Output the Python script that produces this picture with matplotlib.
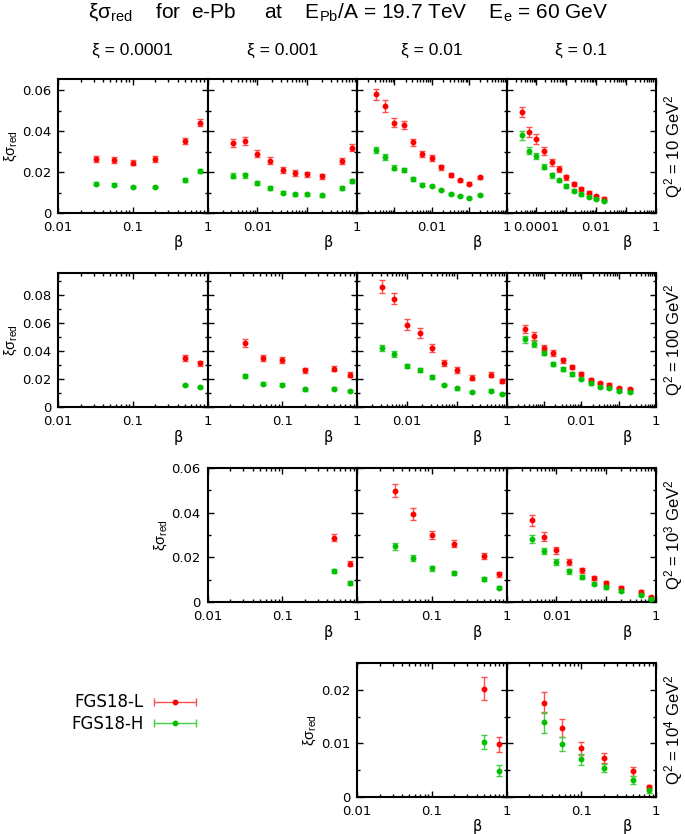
import matplotlib
matplotlib.use('Agg')
import matplotlib.pyplot as plt
from matplotlib.ticker import FixedLocator, LogLocator, MultipleLocator, FuncFormatter, NullFormatter
from matplotlib.container import ErrorbarContainer
from matplotlib.legend_handler import HandlerErrorbar

plt.rcParams['font.family'] = ['DejaVu Sans']
plt.rcParams['mathtext.fontset'] = 'custom'
plt.rcParams['mathtext.rm'] = 'Liberation Sans'
plt.rcParams['mathtext.it'] = 'Liberation Sans:italic'
plt.rcParams['mathtext.bf'] = 'Liberation Sans:bold'
plt.rcParams['mathtext.sf'] = 'Liberation Sans'

# ---------------- data ----------------
xi_labels = ['ξ = 0.0001', 'ξ = 0.001', 'ξ = 0.01', 'ξ = 0.1']
q2_labels = ['Q$^2$ = 10 GeV$^2$', 'Q$^2$ = 100 GeV$^2$',
             'Q$^2$ = 10$^3$ GeV$^2$', 'Q$^2$ = 10$^4$ GeV$^2$']
series_labels = ['FGS18-L', 'FGS18-H']

# Q2 = 10 GeV^2
beta_q1_xi4 = [0.032, 0.056, 0.1, 0.2, 0.5, 0.8]
L_q1_xi4 = [0.0263, 0.0259, 0.0245, 0.0263, 0.0353, 0.0441]
Le_q1_xi4 = [0.0013, 0.0013, 0.0012, 0.0013, 0.0015, 0.0018]
H_q1_xi4 = [0.0143, 0.0137, 0.0127, 0.0127, 0.0161, 0.0203]
He_q1_xi4 = [0.0007, 0.0007, 0.0006, 0.0006, 0.0008, 0.0010]

beta_q1_xi3 = [0.0032, 0.0056, 0.01, 0.018, 0.032, 0.056, 0.1, 0.2, 0.5, 0.8]
L_q1_xi3 = [0.0340, 0.0353, 0.0289, 0.0255, 0.0211, 0.0195, 0.0189, 0.0179, 0.0252, 0.0319]
Le_q1_xi3 = [0.0020, 0.0020, 0.0018, 0.0016, 0.0015, 0.0013, 0.0012, 0.0011, 0.0015, 0.0018]
H_q1_xi3 = [0.0182, 0.0184, 0.0148, 0.0122, 0.0099, 0.0091, 0.0091, 0.0086, 0.0123, 0.0158]
He_q1_xi3 = [0.0011, 0.0011, 0.0010, 0.0008, 0.0007, 0.0007, 0.0007, 0.0007, 0.0009, 0.0010]

beta_q1_xi2 = [0.00032, 0.00056, 0.001, 0.0018, 0.0032, 0.0056, 0.01, 0.018, 0.032, 0.056, 0.1, 0.2]
L_q1_xi2 = [0.0579, 0.0523, 0.0441, 0.0429, 0.0345, 0.0286, 0.0267, 0.0223, 0.0184, 0.0159, 0.0143, 0.0174]
Le_q1_xi2 = [0.0027, 0.0028, 0.0022, 0.0021, 0.0018, 0.0015, 0.0014, 0.0012, 0.0010, 0.0009, 0.0008, 0.0009]
H_q1_xi2 = [0.0307, 0.0272, 0.0221, 0.0211, 0.0166, 0.0138, 0.0132, 0.0112, 0.0093, 0.0081, 0.0073, 0.0089]
He_q1_xi2 = [0.0015, 0.0014, 0.0012, 0.0011, 0.0009, 0.0008, 0.0007, 0.0006, 0.0006, 0.0005, 0.0005, 0.0005]

beta_q1_xi1 = [3.2e-5, 5.6e-5, 1e-4, 1.8e-4, 3.2e-4, 5.6e-4, 1e-3, 1.8e-3, 3.2e-3, 5.6e-3, 0.01, 0.018]
L_q1_xi1 = [0.0494, 0.0397, 0.0362, 0.0302, 0.0247, 0.0213, 0.0174, 0.0141, 0.0117, 0.0099, 0.0081, 0.0070]
Le_q1_xi1 = [0.0025, 0.0024, 0.0024, 0.0019, 0.0016, 0.0015, 0.0012, 0.0010, 0.0009, 0.0008, 0.0007, 0.0006]
H_q1_xi1 = [0.0379, 0.0304, 0.0278, 0.0226, 0.0184, 0.0159, 0.0132, 0.0109, 0.0091, 0.0078, 0.0067, 0.0057]
He_q1_xi1 = [0.0022, 0.0016, 0.0015, 0.0013, 0.0011, 0.0009, 0.0008, 0.0007, 0.0006, 0.0005, 0.0005, 0.0005]

# Q2 = 100 GeV^2
beta_q2_xi4 = [0.5, 0.8]
L_q2_xi4 = [0.0350, 0.0312]
Le_q2_xi4 = [0.0018, 0.0016]
H_q2_xi4 = [0.0157, 0.0143]
He_q2_xi4 = [0.0008, 0.0007]

beta_q2_xi3 = [0.032, 0.056, 0.1, 0.2, 0.5, 0.8]
L_q2_xi3 = [0.0457, 0.0350, 0.0336, 0.0262, 0.0274, 0.0231]
Le_q2_xi3 = [0.0032, 0.0021, 0.0021, 0.0018, 0.0019, 0.0017]
H_q2_xi3 = [0.0219, 0.0167, 0.0159, 0.0126, 0.0131, 0.0112]
He_q2_xi3 = [0.0014, 0.0012, 0.0011, 0.0009, 0.0009, 0.0008]

beta_q2_xi2 = [0.0032, 0.0056, 0.01, 0.018, 0.032, 0.056, 0.1, 0.2, 0.5, 0.8]
L_q2_xi2 = [0.0859, 0.0774, 0.0588, 0.0529, 0.0424, 0.0314, 0.0264, 0.0209, 0.0231, 0.0188]
Le_q2_xi2 = [0.0047, 0.0041, 0.0038, 0.0035, 0.0028, 0.0022, 0.0020, 0.0016, 0.0017, 0.0014]
H_q2_xi2 = [0.0421, 0.0379, 0.0291, 0.0264, 0.0212, 0.0157, 0.0133, 0.0105, 0.0117, 0.0095]
He_q2_xi2 = [0.0021, 0.0020, 0.0016, 0.0015, 0.0013, 0.0010, 0.0009, 0.0008, 0.0008, 0.0007]

beta_q2_xi1 = [3.2e-4, 5.6e-4, 1e-3, 1.8e-3, 3.2e-3, 5.6e-3, 0.01, 0.018, 0.032, 0.056, 0.1, 0.2]
L_q2_xi1 = [0.0557, 0.0507, 0.0421, 0.0386, 0.0333, 0.0286, 0.0236, 0.0195, 0.0171, 0.0159, 0.0136, 0.0126]
Le_q2_xi1 = [0.0030, 0.0028, 0.0024, 0.0022, 0.0019, 0.0016, 0.0014, 0.0012, 0.0010, 0.0010, 0.0009, 0.0008]
H_q2_xi1 = [0.0484, 0.0452, 0.0388, 0.0307, 0.0271, 0.0236, 0.0200, 0.0169, 0.0145, 0.0133, 0.0114, 0.0109]
He_q2_xi1 = [0.0024, 0.0022, 0.0019, 0.0016, 0.0014, 0.0012, 0.0010, 0.0009, 0.0008, 0.0007, 0.0006, 0.0006]

# Q2 = 1000 GeV^2
beta_q3_xi3 = [0.5, 0.8]
L_q3_xi3 = [0.0288, 0.0172]
Le_q3_xi3 = [0.0017, 0.0013]
H_q3_xi3 = [0.0140, 0.0085]
He_q3_xi3 = [0.0009, 0.0007]

beta_q3_xi2 = [0.032, 0.056, 0.1, 0.2, 0.5, 0.8]
L_q3_xi2 = [0.0498, 0.0394, 0.0300, 0.0261, 0.0207, 0.0125]
Le_q3_xi2 = [0.0030, 0.0025, 0.0017, 0.0016, 0.0013, 0.0011]
H_q3_xi2 = [0.0249, 0.0198, 0.0151, 0.0131, 0.0103, 0.0064]
He_q3_xi2 = [0.0016, 0.0013, 0.0010, 0.0009, 0.0008, 0.0006]

beta_q3_xi1 = [0.0032, 0.0056, 0.01, 0.018, 0.032, 0.056, 0.1, 0.2, 0.5, 0.8]
L_q3_xi1 = [0.0366, 0.0292, 0.0231, 0.0179, 0.0143, 0.0106, 0.0086, 0.0064, 0.0046, 0.0021]
Le_q3_xi1 = [0.0025, 0.0020, 0.0016, 0.0013, 0.0011, 0.0009, 0.0008, 0.0007, 0.0006, 0.0005]
H_q3_xi1 = [0.0283, 0.0227, 0.0179, 0.0137, 0.0111, 0.0082, 0.0066, 0.0051, 0.0033, 0.0013]
He_q3_xi1 = [0.0017, 0.0014, 0.0012, 0.0010, 0.0008, 0.0007, 0.0006, 0.0005, 0.0005, 0.0004]

# Q2 = 10000 GeV^2
beta_q4_xi2 = [0.5, 0.8]
L_q4_xi2 = [0.0202, 0.0098]
Le_q4_xi2 = [0.0021, 0.0014]
H_q4_xi2 = [0.0102, 0.0049]
He_q4_xi2 = [0.0013, 0.0010]

beta_q4_xi1 = [0.032, 0.056, 0.1, 0.2, 0.5, 0.8]
L_q4_xi1 = [0.0176, 0.0129, 0.0091, 0.0073, 0.0048, 0.0019]
Le_q4_xi1 = [0.0020, 0.0017, 0.0012, 0.0009, 0.0008, 0.0004]
H_q4_xi1 = [0.0139, 0.0099, 0.0070, 0.0054, 0.0032, 0.0013]
He_q4_xi1 = [0.0020, 0.0013, 0.0011, 0.0008, 0.0007, 0.0005]

# ---------------- layout ----------------
W, H = 685, 834
RED, RED_E = '#ff0000', '#ff5050'
GRN, GRN_E = '#00c000', '#40d040'

col_edges = [58, 207.5, 357, 506.5, 656]
row_spans = [(79, 213), (273, 407), (468, 602), (663, 797)]
row_ylim = [0.0654, 0.0957, 0.06, 0.025]
row_ymaj = [0.02, 0.02, 0.02, 0.01]
row_ymin = [0.01, 0.01, 0.01, 0.005]

# (row, col, beta, L, Le, H, He, xmin, labelled decades)
panels = [
    (0, 0, beta_q1_xi4, L_q1_xi4, Le_q1_xi4, H_q1_xi4, He_q1_xi4, 1e-2, [1e-2, 1e-1, 1]),
    (0, 1, beta_q1_xi3, L_q1_xi3, Le_q1_xi3, H_q1_xi3, He_q1_xi3, 1e-3, [1e-2, 1]),
    (0, 2, beta_q1_xi2, L_q1_xi2, Le_q1_xi2, H_q1_xi2, He_q1_xi2, 1e-4, [1e-2, 1]),
    (0, 3, beta_q1_xi1, L_q1_xi1, Le_q1_xi1, H_q1_xi1, He_q1_xi1, 1e-5, [1e-4, 1e-2, 1]),
    (1, 0, beta_q2_xi4, L_q2_xi4, Le_q2_xi4, H_q2_xi4, He_q2_xi4, 1e-2, [1e-2, 1e-1, 1]),
    (1, 1, beta_q2_xi3, L_q2_xi3, Le_q2_xi3, H_q2_xi3, He_q2_xi3, 1e-2, [1e-1, 1]),
    (1, 2, beta_q2_xi2, L_q2_xi2, Le_q2_xi2, H_q2_xi2, He_q2_xi2, 1e-3, [1e-2, 1]),
    (1, 3, beta_q2_xi1, L_q2_xi1, Le_q2_xi1, H_q2_xi1, He_q2_xi1, 1e-4, [1e-2, 1]),
    (2, 1, beta_q3_xi3, L_q3_xi3, Le_q3_xi3, H_q3_xi3, He_q3_xi3, 1e-2, [1e-2, 1e-1, 1]),
    (2, 2, beta_q3_xi2, L_q3_xi2, Le_q3_xi2, H_q3_xi2, He_q3_xi2, 1e-2, [1e-1, 1]),
    (2, 3, beta_q3_xi1, L_q3_xi1, Le_q3_xi1, H_q3_xi1, He_q3_xi1, 1e-3, [1e-2, 1]),
    (3, 2, beta_q4_xi2, L_q4_xi2, Le_q4_xi2, H_q4_xi2, He_q4_xi2, 1e-2, [1e-2, 1e-1, 1]),
    (3, 3, beta_q4_xi1, L_q4_xi1, Le_q4_xi1, H_q4_xi1, He_q4_xi1, 1e-2, [1e-1, 1]),
]
first_col = {0: 0, 1: 0, 2: 1, 3: 2}

fig = plt.figure(figsize=(W / 100, H / 100), dpi=100)


def fmt_dec(v):
    return {1e-5: '0.00001', 1e-4: '0.0001', 1e-3: '0.001', 1e-2: '0.01', 1e-1: '0.1', 1: '1'}[v]


def yfmt(v, pos):
    if abs(v) < 1e-12:
        return '0'
    return f'{v:g}'


for (r, c, beta, L, Le, Hv, He, xmin, labd) in panels:
    x0, x1 = col_edges[c], col_edges[c + 1]
    top, bot = row_spans[r]
    ax = fig.add_axes([x0 / W, 1 - bot / H, (x1 - x0) / W, (bot - top) / H])
    ax.errorbar(beta, L, yerr=Le, fmt='o', color=RED, ecolor=RED_E, ms=3.2,
                elinewidth=1.0, capsize=2.3, capthick=1.0, zorder=3)
    ax.errorbar(beta, Hv, yerr=He, fmt='o', color=GRN, ecolor=GRN_E, ms=3.2,
                elinewidth=1.0, capsize=2.3, capthick=1.0, zorder=3)
    ax.set_xscale('log')
    ax.set_xlim(xmin, 1)
    ax.set_ylim(0, row_ylim[r])
    decs = []
    d = xmin
    while d <= 1.0001:
        decs.append(d)
        d *= 10
    decs = [float(f'{v:.0e}') for v in decs]
    ax.xaxis.set_major_locator(FixedLocator(decs))
    ax.xaxis.set_minor_locator(LogLocator(base=10, subs=range(2, 10), numticks=20))
    ax.xaxis.set_minor_formatter(NullFormatter())
    labs = [fmt_dec(v) if any(abs(v - l) < 1e-9 * max(l, 1e-9) for l in labd) else '' for v in decs]
    ax.set_xticklabels(labs)
    ax.yaxis.set_major_locator(MultipleLocator(row_ymaj[r]))
    ax.yaxis.set_minor_locator(MultipleLocator(row_ymin[r]))
    if c == first_col[r]:
        ax.yaxis.set_major_formatter(FuncFormatter(yfmt))
        ax.text(-47 / (x1 - x0), 0.5, 'ξσ$_{\\rm red}$', transform=ax.transAxes,
                rotation=90, ha='center', va='center', fontsize=10.5,
                family='Liberation Sans')
    else:
        ax.yaxis.set_major_formatter(NullFormatter())
    ax.tick_params(which='both', direction='in', top=True, right=True, labelsize=9.5,
                   width=1.0)
    ax.tick_params(which='major', length=4.5)
    ax.tick_params(which='minor', length=2.5)
    ax.tick_params(axis='x', pad=6)
    ax.tick_params(axis='y', pad=5)
    for s in ax.spines.values():
        s.set_linewidth(1.5)
    ax.text(0.805, -30 / (bot - top), 'β', transform=ax.transAxes, ha='center',
            va='center', fontsize=10.5)
    if c == 3:
        ax.text(1 + 18 / (x1 - x0), 0.5, q2_labels[r], transform=ax.transAxes,
                rotation=90, ha='center', va='center', fontsize=12,
                family='Liberation Sans')

# column titles
for c in range(4):
    fig.text((col_edges[c] + col_edges[c + 1]) / 2 / W, 1 - 50 / H, xi_labels[c],
             ha='center', va='center', fontsize=12.5, family='Liberation Sans')

fig.text(348 / W, 1 - 12 / H,
         'ξσ$_{\\rm red}$    for  e-Pb     at    E$_{\\rm Pb}$/A = 19.7 TeV    E$_{\\rm e}$ = 60 GeV',
         ha='center', va='center', fontsize=15, family='Liberation Sans')

# legend (proxy artists kept outside the visible area of a hidden axes)
lax = fig.add_axes([0.001, 0.001, 0.01, 0.01])
lax.set_xlim(0, 1)
lax.set_ylim(0, 1)
lax.axis('off')
hL = lax.errorbar([5], [5], xerr=[1], fmt='o', color=RED, ecolor=RED_E, ms=3.2,
                  elinewidth=1.0, capsize=2.8, capthick=1.0)
hH = lax.errorbar([5], [5], xerr=[1], fmt='o', color=GRN, ecolor=GRN_E, ms=3.2,
                  elinewidth=1.0, capsize=2.8, capthick=1.0)
fig.legend([hL, hH], series_labels, loc='center', bbox_to_anchor=(134 / W, 1 - 713 / H),
           frameon=False, markerfirst=False, fontsize=12, handlelength=2.6,
           handletextpad=0.6, labelspacing=0.2,
           handler_map={ErrorbarContainer: HandlerErrorbar(xerr_size=1.25)})

fig.savefig('out.png', dpi=100)
